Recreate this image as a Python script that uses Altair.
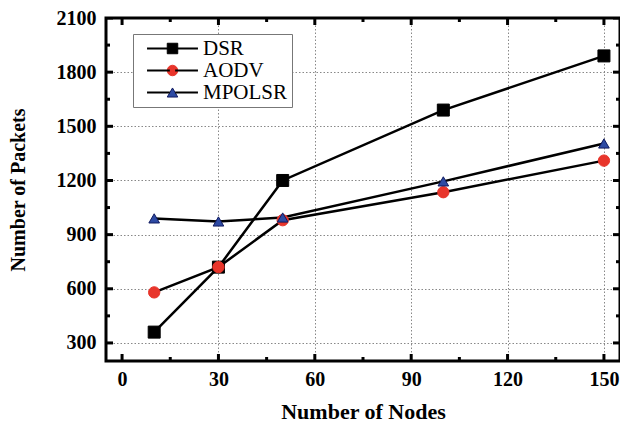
import altair as alt
import pandas as pd

# ---- data ----
nodes = [10, 30, 50, 100, 150]
series_names = ["DSR", "AODV", "MPOLSR"]
dsr = [360, 720, 1200, 1590, 1890]
aodv = [580, 720, 980, 1135, 1310]
mpolsr = [990, 973, 995, 1195, 1405]

x_ticks = [0, 15, 30, 45, 60, 75, 90, 105, 120, 135, 150]
y_ticks = [300, 450, 600, 750, 900, 1050, 1200, 1350, 1500, 1650, 1800, 1950, 2100]

rows = []
for name, vals in zip(series_names, [dsr, aodv, mpolsr]):
    for n, v in zip(nodes, vals):
        rows.append({"nodes": n, "packets": v, "series": name})
df = pd.DataFrame(rows)

FONT = "Liberation Serif"
fill_colors = ["#000000", "#e8352b", "#2d4aa3"]
stroke_colors = ["#000000", "#e8352b", "#101a60"]
shapes = ["square", "circle", "triangle-up"]
sizes = [144, 113, 250]

X_MIN, X_MAX = -5, 155
Y_MIN, Y_MAX = 200, 2100
xscale = alt.Scale(domain=[X_MIN, X_MAX], nice=False, zero=False)
yscale = alt.Scale(domain=[Y_MIN, Y_MAX], nice=False, zero=False)

major_x = "datum.value % 30 == 0"
major_y = "datum.value % 300 == 0"

common = dict(domain=False, ticks=False, labelFont=FONT, labelFontWeight="bold",
              labelColor="black", titleFont=FONT, titleFontWeight="bold",
              titleColor="black", labelOverlap=False, labelFlush=False,
              format="d", gridColor="#888888", gridDash=[1.5, 2], gridWidth=1, grid=True)

bottom_axis = alt.Axis(
    orient="bottom", values=x_ticks, title="Number of Nodes",
    labelExpr=f"{major_x} ? datum.label : ''",
    labelPadding=8, labelFontSize=20, titleFontSize=22, titlePadding=12,
    gridOpacity={"condition": {"test": f"{major_x} && datum.value > 0", "value": 1}, "value": 0},
    **common,
)
left_axis = alt.Axis(
    orient="left", values=y_ticks, title="Number of Packets",
    labelExpr=f"{major_y} ? datum.label : ''",
    labelPadding=10, labelFontSize=20, titleFontSize=20, titlePadding=28,
    gridOpacity={"condition": {"test": f"{major_y} && datum.value < 2100", "value": 1}, "value": 0},
    **common,
)

# legend B: boxed legend with markers and labels
legend_marks = alt.Legend(
    title=None, orient="none", legendX=27, legendY=16,
    symbolSize=110, symbolStrokeWidth=1, symbolOpacity=1,
    symbolOffset=25, labelOffset=20, rowPadding=0, padding=4,
    strokeColor="#777777", fillColor="white",
    labelFont=FONT, labelFontSize=21, labelColor="black", zindex=1,
)
# legend A: the line part of each entry, drawn on top with a gap for the marker
legend_lines = alt.Legend(
    title=None, orient="top-left", offset=16,
    symbolType="M-2.68,0H-0.28M0.28,0H2.68", symbolSize=361, symbolStrokeWidth=2,
    symbolOffset=36, labelOffset=20, rowPadding=0, padding=4,
    labelFont=FONT, labelFontSize=21, labelExpr="''", zindex=2,
)

lines = alt.Chart(df).mark_line(strokeWidth=2.5).encode(
    x=alt.X("nodes:Q", scale=xscale, axis=None),
    y=alt.Y("packets:Q", scale=yscale, axis=None),
    color=alt.Color("series:N", sort=series_names,
                    scale=alt.Scale(range=["#000000", "#000000", "#000000"]),
                    legend=legend_lines),
)

points = alt.Chart(df).mark_point(filled=True, opacity=1, strokeWidth=1).encode(
    x=alt.X("nodes:Q", scale=xscale, axis=bottom_axis),
    y=alt.Y("packets:Q", scale=yscale, axis=left_axis),
    shape=alt.Shape("series:N", scale=alt.Scale(domain=series_names, range=shapes), legend=legend_marks),
    fill=alt.Fill("series:N", scale=alt.Scale(domain=series_names, range=fill_colors), legend=legend_marks),
    stroke=alt.Stroke("series:N", scale=alt.Scale(domain=series_names, range=stroke_colors), legend=None),
    size=alt.Size("series:N", scale=alt.Scale(domain=series_names, range=sizes), legend=None),
)


# inward tick marks on all four sides (half of each tick is clipped away)
def tick_layer(values, step, side):
    d = pd.DataFrame({"v": values})
    base = alt.Chart(d).transform_calculate(
        kind=f"datum.v % {step} == 0 ? 'major' : 'minor'"
    )
    size = alt.Size("kind:N", scale=alt.Scale(domain=["major", "minor"], range=[14, 8]), legend=None)
    if side in ("bottom", "top"):
        edge = Y_MIN if side == "bottom" else Y_MAX
        return base.mark_tick(orient="vertical", thickness=3, color="black", opacity=1, clip=True).encode(
            x=alt.X("v:Q", scale=xscale, axis=None),
            y=alt.Y(datum=edge, type="quantitative", scale=yscale, axis=None),
            size=size,
        )
    edge = X_MIN if side == "left" else X_MAX
    return base.mark_tick(orient="horizontal", thickness=3, color="black", opacity=1, clip=True).encode(
        y=alt.Y("v:Q", scale=yscale, axis=None),
        x=alt.X(datum=edge, type="quantitative", scale=xscale, axis=None),
        size=size,
    )


ticks = [tick_layer(x_ticks, 30, "bottom"), tick_layer(x_ticks, 30, "top"),
         tick_layer(y_ticks, 300, "left"), tick_layer(y_ticks, 300, "right")]

chart = alt.layer(lines, *ticks, points).resolve_axis(
    x="independent", y="independent"
).resolve_scale(
    size="independent"
).properties(
    width=612, height=414, padding=0, background="white",
    autosize=alt.AutoSizeParams(type="fit", contains="padding"),
).configure_view(stroke="black", strokeWidth=3)

chart.save("out.html", embed_options={"renderer": "svg", "actions": False})
